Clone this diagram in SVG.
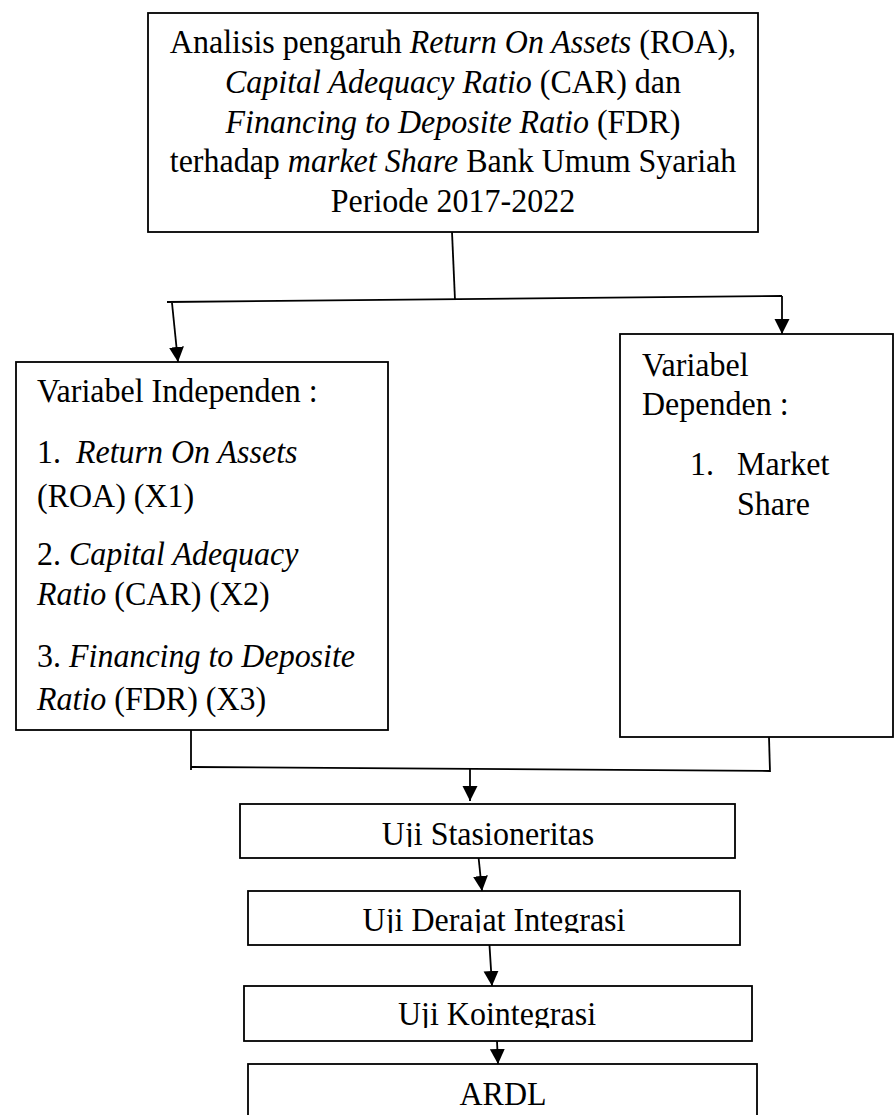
<svg xmlns="http://www.w3.org/2000/svg" width="895" height="1115" viewBox="0 0 895 1115">
<style>
.box{fill:#fff;stroke:#000;stroke-width:1.8}
.ln{fill:none;stroke:#000;stroke-width:1.8}
.t{font-family:"Liberation Serif","Times New Roman",serif;font-size:33.5px;fill:#000}
.c{text-anchor:middle}
.i{font-style:italic}
</style>
<defs>
<marker id="ah" markerUnits="userSpaceOnUse" markerWidth="16" markerHeight="16" refX="15" refY="7.5" orient="auto" viewBox="0 0 16 16">
<path d="M0,0 L15,7.5 L0,15 z" fill="#000"/>
</marker>
<clipPath id="c1"><rect x="240" y="804" width="495" height="43"/></clipPath>
<clipPath id="c2"><rect x="248" y="891" width="492" height="42"/></clipPath>
<clipPath id="c3"><rect x="244" y="986" width="508" height="42"/></clipPath>
</defs>

<g id="connectors">
<polyline class="ln" points="452,232 455,300"/>
<polyline class="ln" points="167,302 782,296"/>
<line class="ln" x1="172" y1="303" x2="178" y2="362" marker-end="url(#ah)"/>
<line class="ln" x1="782" y1="296" x2="782" y2="334" marker-end="url(#ah)"/>
<polyline class="ln" points="191,730 191,770"/>
<polyline class="ln" points="769,737 770,772"/>
<polyline class="ln" points="191,767 770,771"/>
<line class="ln" x1="470" y1="768" x2="470" y2="801" marker-end="url(#ah)"/>
<line class="ln" x1="478" y1="852" x2="482" y2="891" marker-end="url(#ah)"/>
<line class="ln" x1="489" y1="937" x2="492" y2="986" marker-end="url(#ah)"/>
<line class="ln" x1="497" y1="1041" x2="498" y2="1064" marker-end="url(#ah)"/>
</g>

<g id="node-title">
<rect class="box" x="148" y="13" width="610" height="219"/>
<g transform="matrix(0.955 0 0 1 20.385 0)">
<text class="t c" x="453" y="53">Analisis pengaruh <tspan class="i">Return On Assets</tspan> (ROA),</text>
<text class="t c" x="453" y="93"><tspan class="i">Capital Adequacy Ratio</tspan> (CAR) dan</text>
<text class="t c" x="453" y="133"><tspan class="i">Financing to Deposite Ratio</tspan> (FDR)</text>
<text class="t c" x="453" y="172">terhadap <tspan class="i">market Share</tspan> Bank Umum Syariah</text>
<text class="t c" x="453" y="212">Periode 2017-2022</text>
</g>
</g>

<g id="node-independen">
<rect class="box" x="16" y="362" width="372" height="368"/>
<g transform="matrix(0.955 0 0 1 1.665 0)">
<text class="t" x="37" y="402">Variabel Independen :</text>
<text class="t" x="37" y="463">1.</text>
<text class="t i" x="77.8" y="463">Return On Assets</text>
<text class="t" x="37" y="507">(ROA) (X1)</text>
<text class="t" x="37" y="565">2. <tspan class="i">Capital Adequacy</tspan></text>
<text class="t" x="37" y="605"><tspan class="i">Ratio</tspan> (CAR) (X2)</text>
<text class="t" x="37" y="667">3. <tspan class="i">Financing to Deposite</tspan></text>
<text class="t" x="37" y="710"><tspan class="i">Ratio</tspan> (FDR) (X3)</text>
</g>
</g>

<g id="node-dependen">
<rect class="box" x="620" y="334" width="273" height="403"/>
<g transform="matrix(0.955 0 0 1 28.89 0)">
<text class="t" x="642" y="376">Variabel</text>
<text class="t" x="642" y="415">Dependen :</text>
<text class="t" x="692.3" y="475">1.</text>
<text class="t" x="741.5" y="475">Market</text>
<text class="t" x="741.5" y="515">Share</text>
</g>
</g>

<g id="node-stasioneritas">
<rect class="box" x="240" y="804" width="495" height="54"/>
<g clip-path="url(#c1)"><text class="t c" x="488" y="845" transform="matrix(0.955 0 0 1 21.96 0)">Uji Stasioneritas</text></g>
</g>

<g id="node-derajat">
<rect class="box" x="248" y="891" width="492" height="54"/>
<g clip-path="url(#c2)"><text class="t c" x="494" y="931" transform="matrix(0.955 0 0 1 22.23 0)">Uji Derajat Integrasi</text></g>
</g>

<g id="node-kointegrasi">
<rect class="box" x="244" y="986" width="508" height="55"/>
<g clip-path="url(#c3)"><text class="t c" x="497" y="1025" transform="matrix(0.955 0 0 1 22.365 0)">Uji Kointegrasi</text></g>
</g>

<g id="node-ardl">
<rect class="box" x="248" y="1064" width="509" height="60"/>
<text class="t c" x="503" y="1105" transform="matrix(0.955 0 0 1 22.635 0)">ARDL</text>
</g>
</svg>
